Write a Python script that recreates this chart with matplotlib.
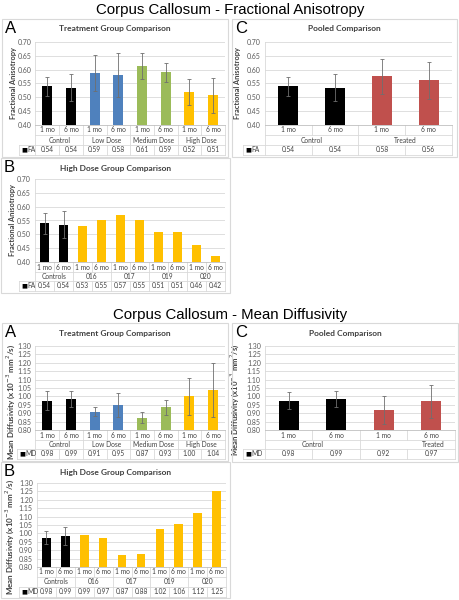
import matplotlib
matplotlib.use('Agg')
import matplotlib.pyplot as plt
from matplotlib.patches import Rectangle
from matplotlib.transforms import blended_transform_factory
import numpy as np

plt.rcParams['font.family'] = ['Lato', 'DejaVu Sans']

W, H = 460, 600

BLACK = '#000000'
BLUE = '#4F81BD'
GREEN = '#9BBB59'
GOLD = '#FFC000'
RED = '#C0504D'
GRID = '#d9d9d9'
TXT = '#404040'

subs = ['1 mo', '6 mo']

# fractional anisotropy - treatment groups
trt_groups = ['Control', 'Low Dose', 'Medium Dose', 'High Dose']
trt_colors = [BLACK] * 2 + [BLUE] * 2 + [GREEN] * 2 + [GOLD] * 2
fa_trt = [0.540, 0.535, 0.588, 0.582, 0.614, 0.590, 0.518, 0.507]
fa_trt_err = [0.035, 0.050, 0.065, 0.080, 0.048, 0.033, 0.047, 0.062]
fa_trt_txt = ['0.54', '0.54', '0.59', '0.58', '0.61', '0.59', '0.52', '0.51']

# fractional anisotropy - pooled
pool_groups = ['Control', 'Treated']
pool_colors = [BLACK] * 2 + [RED] * 2
fa_pool = [0.540, 0.535, 0.576, 0.562]
fa_pool_err = [0.035, 0.050, 0.064, 0.067]
fa_pool_txt = ['0.54', '0.54', '0.58', '0.56']

# fractional anisotropy - high dose animals (error bars on controls only)
hd_groups = ['Controls', '016', '017', '019', '020']
hd_colors = [BLACK] * 2 + [GOLD] * 8
fa_hd = [0.540, 0.535, 0.530, 0.550, 0.570, 0.550, 0.510, 0.510, 0.460, 0.420]
fa_hd_err = [0.037, 0.050]
fa_hd_txt = ['0.54', '0.54', '0.53', '0.55', '0.57', '0.55', '0.51', '0.51', '0.46', '0.42']

# mean diffusivity
md_trt = [0.975, 0.985, 0.910, 0.950, 0.872, 0.935, 1.000, 1.040]
md_trt_err = [0.055, 0.050, 0.025, 0.070, 0.033, 0.043, 0.110, 0.160]
md_trt_txt = ['0.98', '0.99', '0.91', '0.95', '0.87', '0.93', '1.00', '1.04']

md_pool = [0.975, 0.985, 0.920, 0.970]
md_pool_err = [0.050, 0.050, 0.085, 0.100]
md_pool_txt = ['0.98', '0.99', '0.92', '0.97']

md_hd = [0.975, 0.985, 0.990, 0.970, 0.870, 0.880, 1.025, 1.058, 1.122, 1.255]
md_hd_err = [0.037, 0.055]
md_hd_txt = ['0.98', '0.99', '0.99', '0.97', '0.87', '0.88', '1.02', '1.06', '1.12', '1.25']

fa_ticks = np.arange(0.40, 0.701, 0.05)
md_ticks = np.arange(0.80, 1.301, 0.05)
fa_label = 'Fractional Anisotropy'
md_label = 'Mean Diffusivity (x10$^{-3}$ mm$^{2}$/s)'


def fx(x):
    return x / W


def fy(y):
    return 1 - y / H


def draw_panel(fig, box, plot, rows, keyw, letter, title, vals, errs, colors,
               groups, key, texts, ticks, ylabel, bw, label_x=15, label_y=0.5,
               label_size=5.3, group_pos=None):
    bx0, by0, bx1, by1 = box
    fig.add_artist(Rectangle((fx(bx0), fy(by1)), fx(bx1 - bx0), (by1 - by0) / H,
                             transform=fig.transFigure, fill=False, ec=GRID, lw=0.8))
    px0, py0, px1, py1 = plot
    ax = fig.add_axes([fx(px0), fy(py1), fx(px1 - px0), (py1 - py0) / H])
    n = len(vals)
    x = np.arange(n)
    ax.bar(x, vals, width=bw, color=colors, zorder=3)
    ne = len(errs)
    ax.errorbar(x[:ne], vals[:ne], yerr=errs, fmt='none', ecolor='#6f6f6f',
                elinewidth=0.6, capsize=1.2, capthick=0.6, zorder=4)
    ax.set_xlim(-0.5, n - 0.5)
    ax.set_ylim(ticks[0], ticks[-1])
    ax.set_yticks(ticks)
    ax.set_yticklabels([f'{t:.2f}' for t in ticks])
    ax.set_xticks([])
    ax.tick_params(axis='y', length=0, labelsize=5, labelcolor='#595959', pad=3)
    ax.grid(axis='y', color=GRID, lw=0.6, zorder=0)
    for s in ['top', 'right']:
        ax.spines[s].set_visible(False)
    ax.spines['left'].set_color(GRID)
    ax.spines['bottom'].set_color('#bfbfbf')
    ax.spines['left'].set_linewidth(0.6)
    ax.spines['bottom'].set_linewidth(0.6)
    ax.set_ylabel(ylabel, fontsize=label_size, fontweight='bold', color=TXT)
    ax.yaxis.set_label_coords(-(px0 - bx0 - label_x) / (px1 - px0), label_y)

    fig.text(fx(bx0 + 3), fy(by0 + 2), letter, fontsize=12, va='top', ha='left',
             family=['Liberation Sans'])
    fig.text(fx((bx0 + bx1) / 2), fy(by0 + 10), title, fontsize=6, fontweight='bold',
             color=TXT, ha='center', va='center')

    # data table under the axis
    tr = blended_transform_factory(ax.transData, fig.transFigure)
    r0, r1, r2, r3 = rows
    kx = -0.5 - keyw * n / (px1 - px0)
    lk = dict(color=GRID, lw=0.6, transform=tr, clip_on=False)
    for k in range(n + 1):
        ax.plot([k - 0.5, k - 0.5], [fy(r0), fy(r1)], **lk)
        ax.plot([k - 0.5, k - 0.5], [fy(r2), fy(r3)], **lk)
    for k in range(0, n + 1, 2):
        ax.plot([k - 0.5, k - 0.5], [fy(r1), fy(r2)], **lk)
    ax.plot([kx, kx], [fy(r2), fy(r3)], **lk)
    ax.plot([-0.5, n - 0.5], [fy(r1), fy(r1)], **lk)
    ax.plot([kx, n - 0.5], [fy(r2), fy(r2)], **lk)
    ax.plot([kx, n - 0.5], [fy(r3), fy(r3)], **lk)
    tk = dict(fontsize=4.8, color=TXT, ha='center', va='center', transform=tr)
    for i in range(n):
        ax.text(i, fy((r0 + r1) / 2), subs[i % 2], **tk)
        ax.text(i, fy((r2 + r3) / 2), texts[i], **tk)
    if group_pos is None:
        group_pos = [2 * j + 0.5 for j in range(len(groups))]
    for g, gx in zip(groups, group_pos):
        ax.text(gx, fy((r1 + r2) / 2), g, **tk)
    fig.text(fx(px0 - keyw + 2), fy((r2 + r3) / 2), '\u25a0', fontsize=4.5, color=BLACK,
             ha='left', va='center', family=['DejaVu Sans'])
    fig.text(fx(px0 - keyw + 8), fy((r2 + r3) / 2), key, fontsize=4.8, color=TXT,
             ha='left', va='center')
    return ax


fig = plt.figure(figsize=(W / 100, H / 100), dpi=100)
fig.patch.set_facecolor('white')

fig.text(0.5, fy(10), 'Corpus Callosum - Fractional Anisotropy', fontsize=10.8,
         ha='center', va='center', family=['Liberation Sans'])
fig.text(0.5, fy(315), 'Corpus Callosum - Mean Diffusivity', fontsize=10.8,
         ha='center', va='center', family=['Liberation Sans'])

draw_panel(fig, (2, 19, 228, 157), (35.5, 42, 225, 125), (125, 135, 145, 155), 16,
           'A', 'Treatment Group Comparison', fa_trt, fa_trt_err, trt_colors,
           trt_groups, 'FA', fa_trt_txt, fa_ticks, fa_label, 0.42)
draw_panel(fig, (232, 19, 457, 157), (265, 42, 452, 125), (125, 135, 145, 155), 22,
           'C', 'Pooled Comparison', fa_pool, fa_pool_err, pool_colors,
           pool_groups, 'FA', fa_pool_txt, fa_ticks, fa_label, 0.43, label_x=9)
draw_panel(fig, (1, 158, 230, 293), (35, 179, 225, 262), (262, 272, 281, 291), 16,
           'B', 'High Dose Group Comparison', fa_hd, fa_hd_err, hd_colors,
           hd_groups, 'FA', fa_hd_txt, fa_ticks, fa_label, 0.45)

draw_panel(fig, (2, 323, 228, 461), (35.5, 346, 225, 430), (430, 440, 449, 459), 18,
           'A', 'Treatment Group Comparison', md_trt, md_trt_err, trt_colors,
           trt_groups, 'MD', md_trt_txt, md_ticks, md_label, 0.42,
           label_y=0.33, label_size=5.8)
draw_panel(fig, (232, 323, 458, 462), (265, 346, 455, 430), (430, 440, 449, 459), 22,
           'C', 'Pooled Comparison', md_pool, md_pool_err, pool_colors,
           pool_groups, 'MD', md_pool_txt, md_ticks, md_label, 0.43,
           label_x=9, label_y=0.36, label_size=5.6, group_pos=[0.5, 3.05])
draw_panel(fig, (1, 462, 230, 598), (37, 483, 226, 567), (567, 577, 587, 597), 18,
           'B', 'High Dose Group Comparison', md_hd, md_hd_err, hd_colors,
           hd_groups, 'MD', md_hd_txt, md_ticks, md_label, 0.45,
           label_y=0.36, label_size=5.8)

fig.savefig('out.png', dpi=100)
